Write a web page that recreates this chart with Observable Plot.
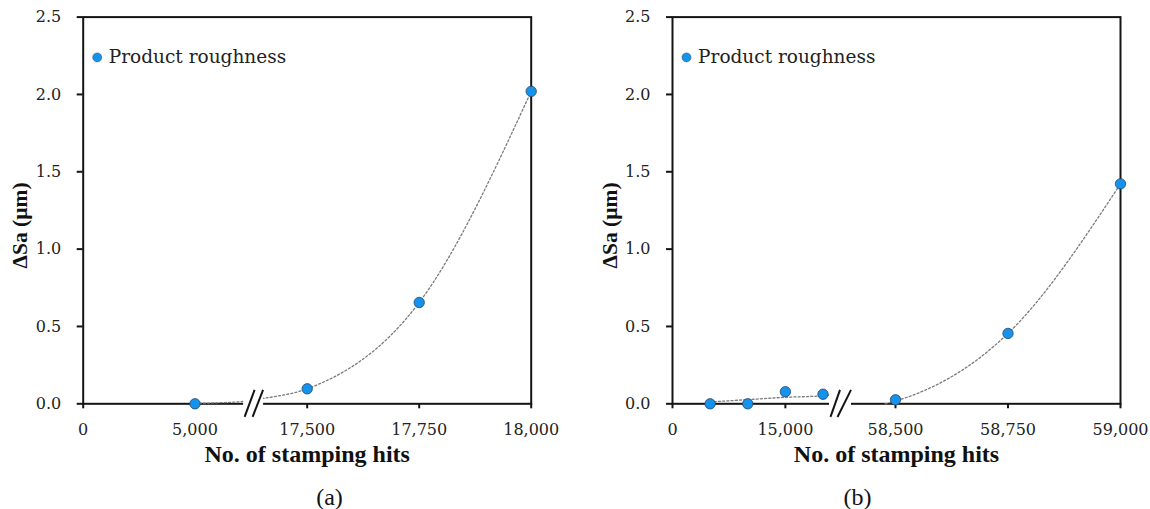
<!DOCTYPE html>
<html><head><meta charset="utf-8">
<script src="https://cdn.jsdelivr.net/npm/d3@7"></script>
<script src="https://cdn.jsdelivr.net/npm/@observablehq/plot@0.6"></script>
<style>
body{margin:0;background:#fff;}
#wrap{display:flex;width:1150px;height:509px;}
</style></head><body><div id="wrap"></div>
<script>
// ---- data ----
const hitsA = [5000, 17500, 17750, 18000];
const roughA = [0.0, 0.097, 0.655, 2.02];
const hitsB = [5000, 10000, 15000, 20000, 58500, 58750, 59000];
const roughB = [0.0, 0.0, 0.078, 0.062, 0.026, 0.455, 1.422];
// dotted trend lines
const trendHitsA = [5000, 10400, 12640, 17500, 17750, 18000];
const trendValsA = [0.003, 0.015, 0.035, 0.097, 0.655, 2.02];
const trendSegA  = [0, 0, 0, 0, 0, 0];
const trendHitsB = [5000, 10000, 15000, 20000, 23000, 53000, 58500, 58750, 59000];
const trendValsB = [0.012, 0.027, 0.042, 0.052, 0.056, 0.0, 0.018, 0.455, 1.422];
const trendSegB  = [0, 0, 0, 0, 0, 1, 1, 1, 1];
const xTicksA = [0, 5000, 17500, 17750, 18000];
const xTicksB = [0, 15000, 58500, 58750, 59000];
const yTicks = [0, 0.5, 1.0, 1.5, 2.0, 2.5];
const seriesName = "Product roughness";
const xTitle = "No. of stamping hits";
const yTitle = "ΔSa (µm)";
const captions = ["(a)", "(b)"];

// ---- layout / style (not data) ----
const W = 575, H = 509, MT = 16.6, MB = 105.7;
const BLUE = "#1592eb", DOT_STROKE = "#24466b", INK = "#141414";
const panels = [
  {hits: hitsA, rough: roughA, tH: trendHitsA, tV: trendValsA, tS: trendSegA, ticks: xTicksA,
   ml: 82.7, mr: 44.3, xDomain: [0, 5000, 17500, 18000], xRange: [82.7, 194.5, 306.7, 530.7],
   gap: [10416, 12640], slashes: [[10527, 11639], [11416, 12584]], capX: 329, cap: captions[0]},
  {hits: hitsB, rough: roughB, tH: trendHitsB, tV: trendValsB, tS: trendSegB, ticks: xTicksB,
   ml: 97, mr: 30, xDomain: [0, 20000, 58500, 59000], xRange: [97, 247.5, 320, 545],
   gap: [23452, 35134], slashes: [[23983, 29027], [27700, 34868]], capX: 282, cap: captions[1]}
];

const wrap = document.getElementById("wrap");
for (const p of panels) {
  const pts = p.hits.map((h, i) => ({h, v: p.rough[i]}));
  const trend = p.tH.map((h, i) => ({h, v: p.tV[i], s: p.tS[i]}));
  const chart = Plot.plot({
    width: W, height: H,
    marginLeft: p.ml, marginRight: p.mr, marginTop: MT, marginBottom: MB,
    style: {fontFamily: "DejaVu Serif", fontSize: "16px", color: "#222", background: "white", overflow: "visible"},
    x: {type: "linear", domain: p.xDomain, range: p.xRange},
    y: {domain: [0, 2.5]},
    marks: [
      Plot.axisY({ticks: yTicks, tickFormat: d3.format(".1f"), tickSize: 6, tickPadding: 16,
                  fontSize: 16, strokeWidth: 2, stroke: INK, label: null}),
      Plot.axisX({ticks: p.ticks, tickFormat: d3.format(","), tickSize: 5, tickPadding: 15,
                  fontSize: 16, strokeWidth: 2, stroke: INK, label: null}),
      Plot.frame({stroke: INK, strokeWidth: 2}),
      Plot.line(trend, {x: "h", y: "v", z: "s", curve: "monotone-x", stroke: "#7a7a7a",
                        strokeWidth: 1.3, strokeDasharray: "2,2.2"}),
      Plot.rect([p.gap], {x1: d => d[0], x2: d => d[1], y1: () => -0.025, y2: () => 0.075, fill: "white"}),
      Plot.link(p.slashes, {x1: d => d[0], x2: d => d[1], y1: () => -0.085, y2: () => 0.09,
                            stroke: INK, strokeWidth: 2}),
      Plot.dot(pts, {x: "h", y: "v", r: 5.2, fill: BLUE, stroke: DOT_STROKE, strokeWidth: 0.8}),
      Plot.dot([seriesName], {frameAnchor: "top-left", dx: 14, dy: 40.3, r: 4.5, fill: BLUE, stroke: DOT_STROKE, strokeWidth: 0.5}),
      Plot.text([seriesName], {text: d => d, frameAnchor: "top-left", dx: 25.6, dy: 40.3,
                               textAnchor: "start", lineAnchor: "middle", fontSize: 18.5, fill: "#222"}),
      Plot.text([xTitle], {text: d => d, frameAnchor: "bottom", dy: 51, fontSize: 24,
                           textAnchor: "middle", lineAnchor: "middle",
                           fontWeight: "bold", fontFamily: "Liberation Serif", fill: "#111"}),
      Plot.text([yTitle], {text: d => d, frameAnchor: "left", rotate: -90, dx: -62.7, dy: 15,
                           textAnchor: "middle", lineAnchor: "middle",
                           fontSize: 21.5, fontWeight: "bold", fontFamily: "Liberation Serif", fill: "#111"}),
      Plot.text([p.cap], {text: d => d, frameAnchor: "bottom-left", dx: p.capX - p.ml, dy: 93.7,
                          textAnchor: "middle", lineAnchor: "middle",
                          fontSize: 24, fontFamily: "Liberation Serif", fill: "#111"})
    ]
  });
  wrap.appendChild(chart);
}
</script></body></html>
